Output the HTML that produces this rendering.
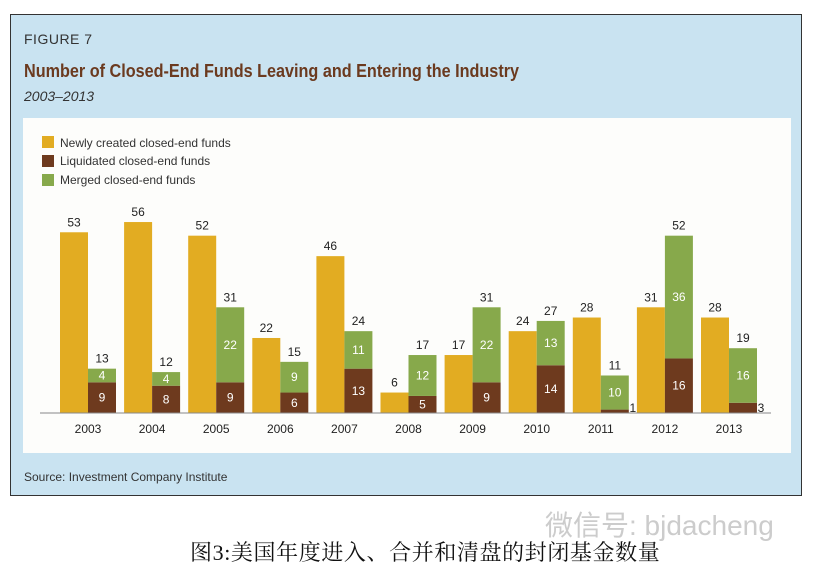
<!DOCTYPE html>
<html><head><meta charset="utf-8"><style>
body{margin:0;width:813px;height:568px;background:#fff;position:relative;overflow:hidden;font-family:"Liberation Sans","Noto Sans CJK SC",sans-serif}
#frame{position:absolute;left:10px;top:14px;width:792px;height:482px;background:#c9e3f1;border:1px solid #333;box-sizing:border-box}
.t{position:absolute;white-space:nowrap}
</style></head><body>
<div id="frame"></div>
<div class="t" style="left:24px;top:31px;font-size:14px;color:#333;letter-spacing:0.5px">FIGURE 7</div>
<div class="t" style="left:24px;top:61px;font-size:18px;font-weight:bold;color:#6b3a1f;transform:scaleX(0.9);transform-origin:left">Number of Closed-End Funds Leaving and Entering the Industry</div>
<div class="t" style="left:24px;top:88px;font-size:14px;font-style:italic;color:#333">2003–2013</div>
<svg style="position:absolute;left:0;top:0" width="813" height="568">
<rect x="23" y="118" width="768" height="335" fill="#fdfdfb"/>
<g id="legend" font-size="12" fill="#333" font-family="Liberation Sans, sans-serif">
<rect x="42" y="136" width="12" height="12" fill="#e2ac22"/>
<text x="60" y="147">Newly created closed-end funds</text>
<rect x="42" y="155" width="12" height="12" fill="#6e3a1e"/>
<text x="60" y="165">Liquidated closed-end funds</text>
<rect x="42" y="174" width="12" height="12" fill="#87a94b"/>
<text x="60" y="184">Merged closed-end funds</text>
</g>
<g id="bars"></g>
<line x1="40" y1="413" x2="771" y2="413" stroke="#888" stroke-width="1"/>
<text x="24" y="481" font-size="12" fill="#333">Source: Investment Company Institute</text>
<text x="545" y="535" font-size="28" fill="#ccc" font-family="Liberation Sans, Noto Sans CJK SC, sans-serif">微信号: bjdacheng</text>
<text x="190" y="560" font-size="22" letter-spacing="0.6" fill="#111" font-family="Liberation Serif, Noto Serif CJK SC, serif">图3:美国年度进入、合并和清盘的封闭基金数量</text>
</svg>
<script>
const years=["2003","2004","2005","2006","2007","2008","2009","2010","2011","2012","2013"];
const created=[53,56,52,22,46,6,17,24,28,31,28];
const liquidated=[9,8,9,6,13,5,9,14,1,16,3];
const merged=[4,4,22,9,11,12,22,13,10,36,16];
const g=document.getElementById('bars');
const NS='http://www.w3.org/2000/svg';
const base=413,scale=3.41,x0=60,step=64.1,bw=28;
function y(v){return base-v*scale;}
function mk(tag,attrs){const e=document.createElementNS(NS,tag);for(const k in attrs)e.setAttribute(k,attrs[k]);g.appendChild(e);return e;}
function txt(x,yy,s,fill){const e=mk('text',{x:x,y:yy,'text-anchor':'middle','font-size':12,fill:fill,'font-family':'Liberation Sans, sans-serif'});e.textContent=s;return e;}
years.forEach((yr,i)=>{
 const xa=x0+i*step,xb=xa+bw;
 let r=mk('rect',{x:xa,y:y(created[i]),width:bw,height:created[i]*scale,fill:'#e2ac22'});
 
 
 let l=txt(xa+bw/2,y(created[i])-6,String(created[i]),'#222');
 
 
 r=mk('rect',{x:xb,y:y(liquidated[i]),width:bw,height:liquidated[i]*scale,fill:'#6e3a1e'});
 
 
 const tot=liquidated[i]+merged[i];
 r=mk('rect',{x:xb,y:y(tot),width:bw,height:merged[i]*scale,fill:'#87a94b'});
 
 
 if(liquidated[i]>=5){l=txt(xb+bw/2,y(liquidated[i]/2)+4,String(liquidated[i]),'#fff');}
 else{l=txt(xb+bw+4,base-1,String(liquidated[i]),'#222');}
 
 
 l=txt(xb+bw/2,y(liquidated[i]+merged[i]/2)+4,String(merged[i]),'#fff');
 
 
 l=txt(xb+bw/2,y(tot)-6,String(tot),'#222');
 
 
 l=txt(xb,433,yr,'#222');
 
 
});
</script>
</body></html>
